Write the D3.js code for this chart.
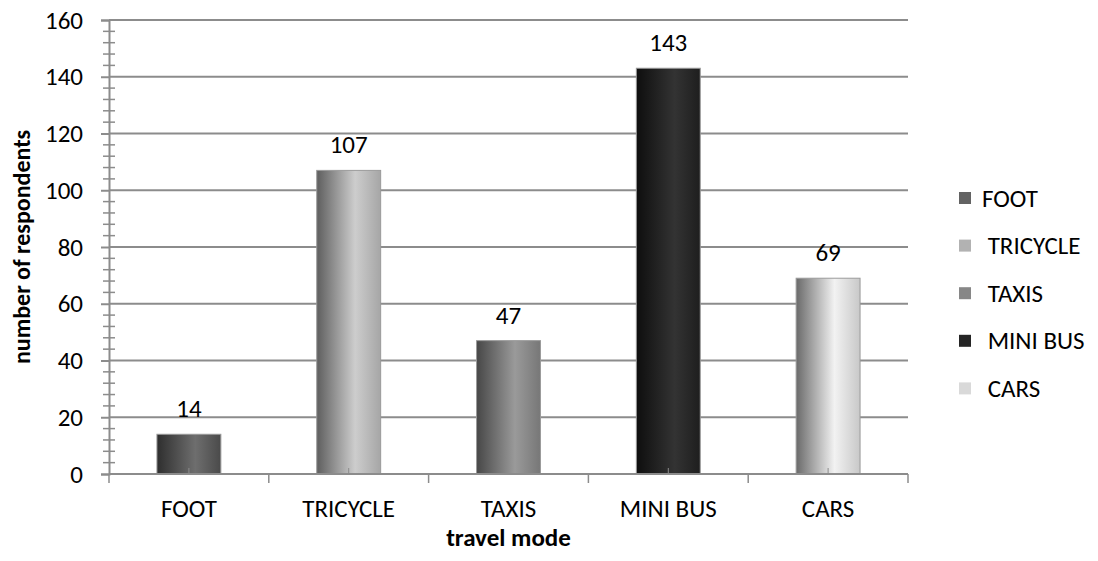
<!DOCTYPE html>
<html>
<head>
<meta charset="utf-8">
<script src="https://cdn.jsdelivr.net/npm/d3@7"></script>
<style>
  html, body { margin: 0; padding: 0; background: #fff; }
  svg text { font-family: Carlito, Lato, "Open Sans", sans-serif; fill: #000; }
</style>
</head>
<body>
<svg id="chart" width="1098" height="561"></svg>
<script>
// Travel mode survey: respondents per mode
const categories = ["FOOT", "TRICYCLE", "TAXIS", "MINI BUS", "CARS"];
const respondents = [14, 107, 47, 143, 69];
const yTicks = [0, 20, 40, 60, 80, 100, 120, 140, 160];
const legendLabels = ["FOOT", " TRICYCLE", " TAXIS", " MINI BUS", " CARS"];

// Shading per bar: [left edge, highlight, right edge], plus flat legend swatch colour
const shades = [
  ["#2e2e2e", "#6e6e6e", "#4a4a4a"],
  ["#5e5e5e", "#cdcdcd", "#a6a6a6"],
  ["#474747", "#9a9a9a", "#777777"],
  ["#0e0e0e", "#333333", "#1e1e1e"],
  ["#6a6a6a", "#f2f2f2", "#c8c8c8"]
];
const swatch = ["#636363", "#b2b2b2", "#878787", "#252525", "#d9d9d9"];

const svg = d3.select("#chart");
const plotLeft = 109, plotRight = 908, plotTop = 20, plotBottom = 474;
const gridColor = "#8c8c8c";
const fs = 25;

const x = d3.scaleBand().domain(categories).range([plotLeft, plotRight]).paddingInner(0.6).paddingOuter(0.3);
const xBand = d3.scaleBand().domain(categories).range([plotLeft, plotRight]);
const y = d3.scaleLinear().domain([0, 160]).range([plotBottom, plotTop]);

// Gradients
const defs = svg.append("defs");
shades.forEach((s, i) => {
  const g = defs.append("linearGradient").attr("id", "grad" + i)
    .attr("x1", "0%").attr("x2", "100%").attr("y1", "0%").attr("y2", "0%");
  g.append("stop").attr("offset", "0%").attr("stop-color", s[0]);
  g.append("stop").attr("offset", "60%").attr("stop-color", s[1]);
  g.append("stop").attr("offset", "100%").attr("stop-color", s[2]);
});

// Gridlines
svg.append("g").selectAll("line").data(yTicks.filter(d => d > 0)).join("line")
  .attr("x1", plotLeft).attr("x2", plotRight)
  .attr("y1", d => y(d)).attr("y2", d => y(d))
  .attr("stroke", gridColor).attr("stroke-width", 2);

// Y axis
const yAxis = svg.append("g").attr("transform", `translate(${plotLeft},0)`)
  .call(d3.axisLeft(y).tickValues(yTicks).tickSize(8).tickPadding(18));
yAxis.attr("font-size", null).attr("font-family", null);
yAxis.select(".domain").attr("stroke", gridColor).attr("stroke-width", 2);
yAxis.selectAll(".tick line").attr("stroke", gridColor).attr("stroke-width", 2);
yAxis.selectAll("text").attr("font-size", fs).attr("fill", "#000");

// Minor y ticks crossing the axis
const minor = d3.range(0, 161, 4).filter(v => v % 20 !== 0);
svg.append("g").selectAll("line").data(minor).join("line")
  .attr("x1", plotLeft - 6).attr("x2", plotLeft + 6)
  .attr("y1", d => y(d)).attr("y2", d => y(d))
  .attr("stroke", gridColor).attr("stroke-width", 1.5);

// Bars
svg.append("g").selectAll("rect").data(categories).join("rect")
  .attr("x", d => x(d))
  .attr("width", x.bandwidth())
  .attr("y", (d, i) => y(respondents[i]))
  .attr("height", (d, i) => y(0) - y(respondents[i]))
  .attr("fill", (d, i) => `url(#grad${i})`)
  .attr("stroke", "#9a9a9a").attr("stroke-width", 1);

// Value labels
svg.append("g").selectAll("text").data(categories).join("text")
  .attr("x", d => x(d) + x.bandwidth() / 2)
  .attr("y", (d, i) => y(respondents[i]) - 17)
  .attr("text-anchor", "middle").attr("font-size", fs)
  .text((d, i) => respondents[i]);

// X axis line and ticks
svg.append("line").attr("x1", plotLeft).attr("x2", plotRight).attr("y1", plotBottom).attr("y2", plotBottom)
  .attr("stroke", gridColor).attr("stroke-width", 2);
const bounds = categories.map(c => xBand(c)).concat([plotRight]);
svg.append("g").selectAll("line").data(bounds).join("line")
  .attr("x1", d => d).attr("x2", d => d)
  .attr("y1", plotBottom).attr("y2", plotBottom + 9)
  .attr("stroke", gridColor).attr("stroke-width", 1.5);
svg.append("g").selectAll("line").data(categories).join("line")
  .attr("x1", d => xBand(d) + xBand.bandwidth() / 2).attr("x2", d => xBand(d) + xBand.bandwidth() / 2)
  .attr("y1", plotBottom - 6).attr("y2", plotBottom)
  .attr("stroke", gridColor).attr("stroke-width", 1);

// X labels
svg.append("g").selectAll("text").data(categories).join("text")
  .attr("x", d => xBand(d) + xBand.bandwidth() / 2)
  .attr("y", 517)
  .attr("text-anchor", "middle").attr("font-size", fs)
  .text(d => d);

// Axis titles
svg.append("text").attr("x", (plotLeft + plotRight) / 2).attr("y", 546)
  .attr("text-anchor", "middle").attr("font-size", 25).attr("font-weight", "bold")
  .text("travel mode");
svg.append("text")
  .attr("transform", `translate(30,${(plotTop + plotBottom) / 2}) rotate(-90)`)
  .attr("text-anchor", "middle").attr("font-size", 24).attr("font-weight", "bold")
  .text("number of respondents");

// Legend
const legend = svg.append("g").selectAll("g").data(legendLabels).join("g")
  .attr("transform", (d, i) => `translate(959,${198 + i * 47.6})`);
legend.append("rect").attr("x", 0).attr("y", -6).attr("width", 12).attr("height", 12)
  .attr("fill", (d, i) => swatch[i]);
legend.append("text").attr("x", 23).attr("y", 8.5).attr("font-size", fs)
  .attr("xml:space", "preserve").style("white-space", "pre")
  .text(d => d);
</script>
</body>
</html>
